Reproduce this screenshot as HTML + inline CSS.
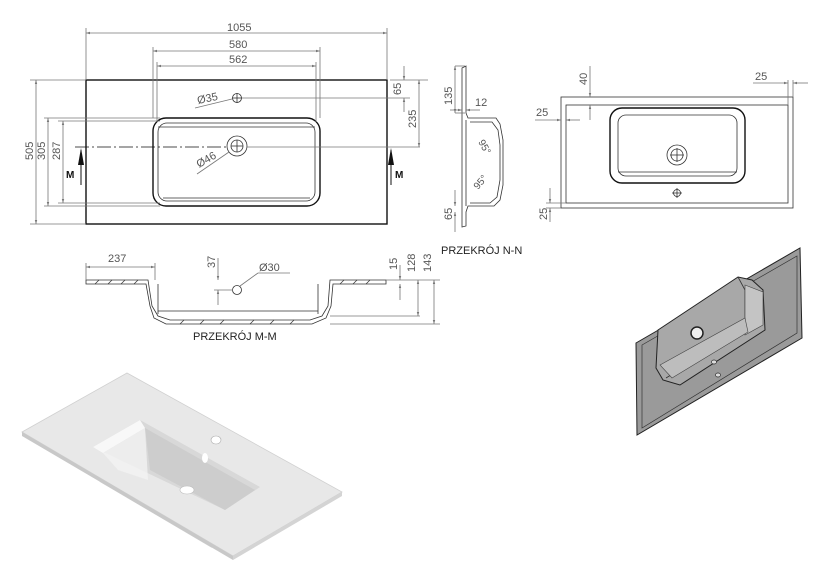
<!DOCTYPE html>
<html><head><meta charset="utf-8"><style>
html,body{margin:0;padding:0;background:#fff}
svg{display:block}
text{font-family:"Liberation Sans",sans-serif;font-size:11px;fill:#555}
.d{stroke:#777;stroke-width:0.8;fill:none}
.k{stroke:#111;stroke-width:1.4;fill:none}
.t{stroke:#333;stroke-width:0.8;fill:none}
</style></head><body>
<svg width="824" height="574" viewBox="0 0 824 574" xmlns="http://www.w3.org/2000/svg">
<defs>
<marker id="a" viewBox="0 0 10 10" refX="10" refY="5" markerWidth="7" markerHeight="5" orient="auto-start-reverse"><path d="M0,2L10,5L0,8z" fill="#777"/></marker>
</defs>
<!-- main top view -->
<rect x="86" y="80" width="301" height="144" class="k"/>
<rect x="153" y="118" width="167" height="88" rx="13" class="k"/>
<rect x="158" y="123" width="157" height="78" rx="9" class="t"/>
<line x1="158" y1="127" x2="315" y2="127" class="t"/>
<line x1="163" y1="198" x2="310" y2="198" class="t"/>
<circle cx="237" cy="98" r="4.5" class="t"/><line x1="232" y1="98" x2="242" y2="98" class="t"/><line x1="237" y1="93" x2="237" y2="103" class="t"/>
<circle cx="237" cy="146" r="10" class="t"/><circle cx="237" cy="146" r="6" class="t"/><line x1="231" y1="146" x2="243" y2="146" class="t"/><line x1="237" y1="140" x2="237" y2="152" class="t"/>
<line x1="75" y1="147" x2="228" y2="147" stroke="#111" stroke-width="0.8" stroke-dasharray="14,3,2,3"/>
<line x1="247" y1="147" x2="420" y2="147" class="d"/>
<line x1="242" y1="98" x2="410" y2="98" class="d"/>
<line x1="195" y1="108" x2="232" y2="99" class="d"/>
<line x1="197" y1="174" x2="229" y2="152" class="d"/>
<text x="198" y="104" transform="rotate(-12 198 104)">Ø35</text>
<text x="199" y="168" transform="rotate(-30 199 168)">Ø46</text>
<!-- dims -->
<line x1="86" y1="33" x2="387" y2="33" class="d" marker-start="url(#a)" marker-end="url(#a)"/>
<line x1="86" y1="28" x2="86" y2="80" class="d"/><line x1="387" y1="28" x2="387" y2="80" class="d"/>
<text x="227" y="31">1055</text>
<line x1="153" y1="51" x2="320" y2="51" class="d" marker-start="url(#a)" marker-end="url(#a)"/>
<line x1="153" y1="47" x2="153" y2="118" class="d"/><line x1="320" y1="47" x2="320" y2="118" class="d"/>
<text x="229" y="48">580</text>
<line x1="157" y1="66" x2="316" y2="66" class="d" marker-start="url(#a)" marker-end="url(#a)"/>
<line x1="157" y1="62" x2="157" y2="122" class="d"/><line x1="316" y1="62" x2="316" y2="122" class="d"/>
<text x="229" y="63">562</text>
<line x1="36" y1="80" x2="36" y2="224" class="d" marker-start="url(#a)" marker-end="url(#a)"/>
<line x1="30" y1="80" x2="86" y2="80" class="d"/><line x1="30" y1="224" x2="86" y2="224" class="d"/>
<text transform="translate(33 160) rotate(-90)">505</text>
<line x1="48" y1="118" x2="48" y2="206" class="d" marker-start="url(#a)" marker-end="url(#a)"/>
<line x1="44" y1="118" x2="160" y2="118" class="d"/><line x1="44" y1="206" x2="160" y2="206" class="d"/>
<text transform="translate(45 160) rotate(-90)">305</text>
<line x1="63" y1="121" x2="63" y2="203" class="d" marker-start="url(#a)" marker-end="url(#a)"/>
<line x1="58" y1="121" x2="160" y2="121" class="d"/><line x1="58" y1="203" x2="160" y2="203" class="d"/>
<text transform="translate(60 160) rotate(-90)">287</text>
<line x1="404" y1="66" x2="404" y2="80" class="d" marker-end="url(#a)"/><line x1="404" y1="112" x2="404" y2="98" class="d" marker-end="url(#a)"/>
<line x1="390" y1="80" x2="428" y2="80" class="d"/>
<text transform="translate(401 95) rotate(-90)">65</text>
<line x1="419" y1="80" x2="419" y2="147" class="d" marker-start="url(#a)" marker-end="url(#a)"/>
<text transform="translate(416 128) rotate(-90)">235</text>
<!-- M arrows -->
<line x1="81" y1="150" x2="81" y2="185" stroke="#111" stroke-width="1"/><path d="M78,165L81,148L84,165z" fill="#111"/>
<text x="66" y="178" style="fill:#111;font-weight:bold;font-size:10px">M</text>
<line x1="391" y1="150" x2="391" y2="185" stroke="#111" stroke-width="1"/><path d="M388,165L391,148L394,165z" fill="#111"/>
<text x="395" y="178" style="fill:#111;font-weight:bold;font-size:10px">M</text>
<!-- N-N section -->
<path d="M462,68L466,66L466,113L468,118L496,118L500,124L503,140L503,185L500,200L494,206L468,206L466,212L466,226L462,227Z" class="t" fill="#fff"/>
<path d="M466,120L466,206M470,122L492,122L498,130L500,145L500,180L497,197L490,203L470,203" class="t"/>
<line x1="455" y1="66" x2="465" y2="66" class="d"/><line x1="455" y1="113" x2="465" y2="113" class="d"/>
<line x1="455" y1="66" x2="455" y2="113" class="d" marker-start="url(#a)" marker-end="url(#a)"/>
<text transform="translate(452 105) rotate(-90)">135</text>
<line x1="450" y1="110" x2="462" y2="110" class="d" marker-end="url(#a)"/><line x1="480" y1="110" x2="466" y2="110" class="d" marker-end="url(#a)"/>
<text x="475" y="106">12</text>
<line x1="455" y1="190" x2="455" y2="206" class="d" marker-end="url(#a)"/><line x1="455" y1="232" x2="455" y2="212" class="d" marker-end="url(#a)"/>
<text transform="translate(452 220) rotate(-90)">65</text>
<text x="478" y="142" transform="rotate(60 478 142)" style="font-size:10px">95°</text>
<text x="478" y="190" transform="rotate(-50 478 190)" style="font-size:10px">95°</text>
<text x="441" y="254" style="fill:#222;font-size:11px">PRZEKRÓJ N-N</text>
<!-- right top view -->
<rect x="561" y="97" width="232" height="111" class="t" stroke-width="1.1"/>
<rect x="566" y="105" width="222" height="98" class="t" stroke-width="1.1"/>
<rect x="610" y="108" width="135" height="75" rx="12" class="k"/>
<rect x="618" y="115" width="119" height="61" rx="8" class="t"/>
<line x1="618" y1="172" x2="737" y2="172" class="t"/>
<circle cx="677" cy="155" r="10" class="t"/><circle cx="677" cy="155" r="6" class="t"/><line x1="670" y1="155" x2="684" y2="155" class="t"/><line x1="677" y1="148" x2="677" y2="162" class="t"/>
<circle cx="677" cy="193" r="3.5" class="t"/><line x1="672" y1="193" x2="682" y2="193" class="t"/><line x1="677" y1="188" x2="677" y2="198" class="t"/>
<line x1="590" y1="66" x2="590" y2="97" class="d" marker-end="url(#a)"/><line x1="590" y1="120" x2="590" y2="105" class="d" marker-end="url(#a)"/>
<text transform="translate(587 85) rotate(-90)">40</text>
<line x1="535" y1="120" x2="561" y2="120" class="d" marker-end="url(#a)"/><line x1="580" y1="120" x2="566" y2="120" class="d" marker-end="url(#a)"/>
<text x="536" y="116">25</text>
<line x1="753" y1="83" x2="788" y2="83" class="d" marker-end="url(#a)"/><line x1="808" y1="83" x2="793" y2="83" class="d" marker-end="url(#a)"/>
<line x1="788" y1="80" x2="788" y2="105" class="d"/><line x1="793" y1="80" x2="793" y2="97" class="d"/>
<text x="755" y="80">25</text>
<line x1="550" y1="188" x2="550" y2="203" class="d" marker-end="url(#a)"/><line x1="550" y1="222" x2="550" y2="208" class="d" marker-end="url(#a)"/>
<line x1="546" y1="203" x2="566" y2="203" class="d"/><line x1="546" y1="208" x2="561" y2="208" class="d"/>
<text transform="translate(547 220) rotate(-90)">25</text>
<!-- M-M section -->
<path d="M86,280L148,280L152,306L158,316L170,320L310,320L322,316L328,306L330,280L386,280L386,284L333,284L331,306L326,318L312,324L166,324L154,318L150,306L146,284L86,284Z" class="t" fill="#fff"/>
<g stroke="#333" stroke-width="0.7">
<line x1="95" y1="284" x2="99" y2="280"/><line x1="108" y1="284" x2="112" y2="280"/><line x1="121" y1="284" x2="125" y2="280"/><line x1="134" y1="284" x2="138" y2="280"/>
<line x1="340" y1="284" x2="344" y2="280"/><line x1="353" y1="284" x2="357" y2="280"/><line x1="366" y1="284" x2="370" y2="280"/>
<line x1="180" y1="324" x2="184" y2="320"/><line x1="200" y1="324" x2="204" y2="320"/><line x1="220" y1="324" x2="224" y2="320"/><line x1="250" y1="324" x2="254" y2="320"/><line x1="270" y1="324" x2="274" y2="320"/><line x1="290" y1="324" x2="294" y2="320"/>
</g>
<line x1="158" y1="284" x2="158" y2="314" class="t"/><line x1="318" y1="284" x2="318" y2="314" class="t"/>
<line x1="158" y1="311" x2="318" y2="311" class="t"/>
<circle cx="237" cy="290" r="4.5" class="t"/>
<line x1="218" y1="258" x2="218" y2="280" class="d" marker-end="url(#a)"/><line x1="218" y1="305" x2="218" y2="290" class="d" marker-end="url(#a)"/>
<line x1="214" y1="290" x2="233" y2="290" class="d"/>
<text transform="translate(215 268) rotate(-90)">37</text>
<line x1="240" y1="286" x2="258" y2="273" class="d"/><line x1="258" y1="273" x2="290" y2="273" class="d"/>
<text x="259" y="271">Ø30</text>
<line x1="86" y1="263" x2="86" y2="280" class="d"/><line x1="155" y1="263" x2="155" y2="280" class="d"/>
<line x1="86" y1="267" x2="155" y2="267" class="d" marker-start="url(#a)" marker-end="url(#a)"/>
<text x="108" y="262">237</text>
<line x1="386" y1="280" x2="440" y2="280" class="d"/><line x1="330" y1="324" x2="440" y2="324" class="d"/><line x1="330" y1="316" x2="420" y2="316" class="d"/>
<line x1="400" y1="265" x2="400" y2="280" class="d" marker-end="url(#a)"/><line x1="400" y1="300" x2="400" y2="284" class="d" marker-end="url(#a)"/>
<text transform="translate(397 270) rotate(-90)">15</text>
<line x1="418" y1="280" x2="418" y2="316" class="d" marker-start="url(#a)" marker-end="url(#a)"/>
<text transform="translate(415 272) rotate(-90)">128</text>
<line x1="434" y1="280" x2="434" y2="324" class="d" marker-start="url(#a)" marker-end="url(#a)"/>
<text transform="translate(431 272) rotate(-90)">143</text>
<text x="193" y="340" style="fill:#222">PRZEKRÓJ M-M</text>
<!-- white 3D -->
<polygon points="90,465 205,535 212,548 100,482" fill="#d6d6d6"/>
<polygon points="22,432 127,373 342,492 233,556" fill="#e8e8e8" stroke="#d0d0d0" stroke-width="0.8"/>
<polygon points="22,432 233,556 233,560 22,436" fill="#c8c8c8"/>
<polygon points="233,556 342,492 342,496 233,560" fill="#d4d4d4"/>
<polygon points="93,447 140,420 260,487 225,510" fill="#d8d8d8"/>
<polygon points="93,447 140,420 145,428 103,453" fill="#f8f8f8"/>
<polygon points="103,453 145,428 148,480 118,470" fill="#f2f2f2" opacity="0.8"/>
<polygon points="145,428 255,490 225,510 150,470" fill="#cdcdcd"/>
<ellipse cx="216" cy="440" rx="5" ry="4" fill="#fff" stroke="#aaa" stroke-width="0.6"/>
<ellipse cx="205" cy="458" rx="3" ry="5" fill="#fff"/>
<ellipse cx="187" cy="490" rx="7" ry="4" fill="#fff" stroke="#bbb" stroke-width="0.6"/>
<!-- gray 3D -->
<polygon points="636,343 800,248 802,338 637,435" fill="#9a9a9a" stroke="#222" stroke-width="1"/>
<polygon points="642,345 797,256 797,333 642,428" fill="none" stroke="#333" stroke-width="0.7"/>
<path d="M658,330L738,277L752,280L763,290L765,330L680,385L663,380L656,368Z" fill="#a8a8a8" stroke="#222" stroke-width="1"/>
<path d="M738,277L745,290L745,330L666,378" fill="none" stroke="#333" stroke-width="0.8"/>
<path d="M745,285L763,292L763,325L745,335Z" fill="#c4c4c4" stroke="#444" stroke-width="0.6"/>
<path d="M660,365L745,318L748,332L672,378Z" fill="#bdbdbd" stroke="#444" stroke-width="0.6"/>
<ellipse cx="697" cy="333" rx="6" ry="6" fill="#eee" stroke="#222" stroke-width="1.5"/>
<ellipse cx="714" cy="362" rx="2.5" ry="2" fill="#ddd" stroke="#333" stroke-width="0.7"/>
<ellipse cx="718" cy="375" rx="2.5" ry="2" fill="#ddd" stroke="#333" stroke-width="0.7"/>
</svg>
</body></html>
